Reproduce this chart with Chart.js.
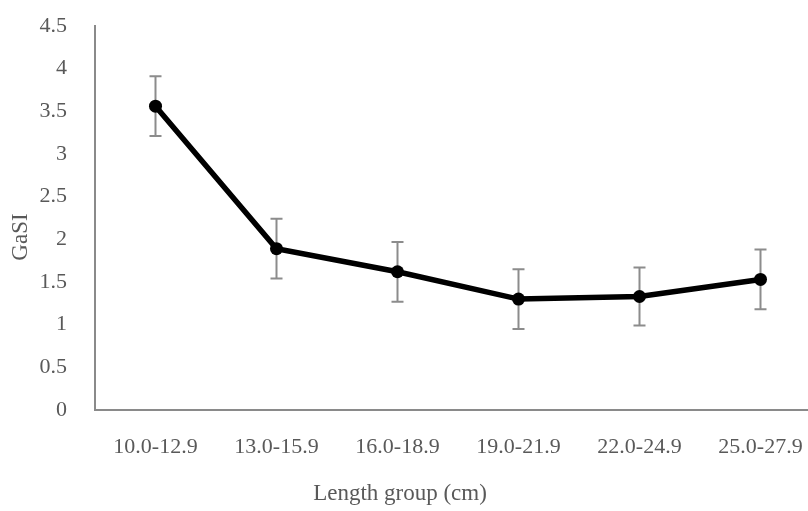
<!DOCTYPE html>
<html>
<head>
<meta charset="utf-8">
<script src="https://cdn.jsdelivr.net/npm/chart.js@4"></script>
<style>
  html, body { margin: 0; padding: 0; background: #fff; overflow: hidden; }
  #wrap { width: 830px; height: 511px; }
</style>
</head>
<body>
<div id="wrap"><canvas id="gasiChart" width="830" height="511"></canvas></div>
<script>
const groups = ['10.0-12.9', '13.0-15.9', '16.0-18.9', '19.0-21.9', '22.0-24.9', '25.0-27.9'];
const gasi = [3.56, 1.89, 1.62, 1.30, 1.33, 1.53];
const gasiErr = [0.35, 0.35, 0.35, 0.35, 0.34, 0.35];
const yTicks = [0, 0.5, 1, 1.5, 2, 2.5, 3, 3.5, 4, 4.5];
const xTitle = 'Length group (cm)';
const yTitle = 'GaSI';

const serif = "'Liberation Serif', 'Times New Roman', serif";
const textGrey = '#595959';

// error bars drawn under the line, using the chart's own scales
const errorBars = {
  id: 'errorBars',
  beforeDatasetsDraw(chart) {
    const { ctx, scales: { x, y } } = chart;
    ctx.save();
    ctx.strokeStyle = '#8c8c8c';
    ctx.lineWidth = 2;
    gasi.forEach((v, i) => {
      const px = x.getPixelForValue(i);
      const top = y.getPixelForValue(v + gasiErr[i]);
      const bot = y.getPixelForValue(v - gasiErr[i]);
      ctx.beginPath();
      ctx.moveTo(px, top); ctx.lineTo(px, bot);
      ctx.moveTo(px - 6, top); ctx.lineTo(px + 6, top);
      ctx.moveTo(px - 6, bot); ctx.lineTo(px + 6, bot);
      ctx.stroke();
    });
    ctx.restore();
  }
};

// axis titles sit where the original put them, not centred on the plot area
const axisTitles = {
  id: 'axisTitles',
  afterDraw(chart) {
    const { ctx } = chart;
    ctx.save();
    ctx.fillStyle = textGrey;
    ctx.font = '23px ' + serif;
    ctx.textAlign = 'center';
    ctx.textBaseline = 'middle';
    ctx.fillText(xTitle, 400, 494);
    ctx.translate(21, 237);
    ctx.rotate(-Math.PI / 2);
    ctx.fillText(yTitle, 0, 0);
    ctx.restore();
  }
};

new Chart(document.getElementById('gasiChart'), {
  type: 'line',
  data: {
    labels: groups,
    datasets: [{
      label: 'GaSI',
      data: gasi,
      borderColor: '#000',
      backgroundColor: '#000',
      borderWidth: 5.5,
      pointRadius: 6.5,
      pointBackgroundColor: '#000',
      pointBorderWidth: 0,
      tension: 0
    }]
  },
  options: {
    responsive: false,
    animation: false,
    layout: { padding: { top: 26, right: 9, left: 0, bottom: 0 } },
    plugins: { legend: { display: false }, tooltip: { enabled: false } },
    scales: {
      x: {
        offset: true,
        grid: { display: false },
        border: { display: true, color: '#8a8a8a', width: 2 },
        ticks: { color: textGrey, font: { family: serif, size: 22 }, padding: 16, maxRotation: 0 },
        afterFit(scale) { scale.height = 101; }
      },
      y: {
        min: 0,
        max: 4.5,
        afterBuildTicks(scale) { scale.ticks = yTicks.map(v => ({ value: v })); },
        grid: { display: false },
        border: { display: true, color: '#8a8a8a', width: 2 },
        ticks: { color: textGrey, font: { family: serif, size: 22 }, padding: 20, callback: v => String(v) },
        afterFit(scale) { scale.width = 95; scale.paddingTop = 0; }
      }
    }
  },
  plugins: [errorBars, axisTitles]
});
</script>
</body>
</html>
